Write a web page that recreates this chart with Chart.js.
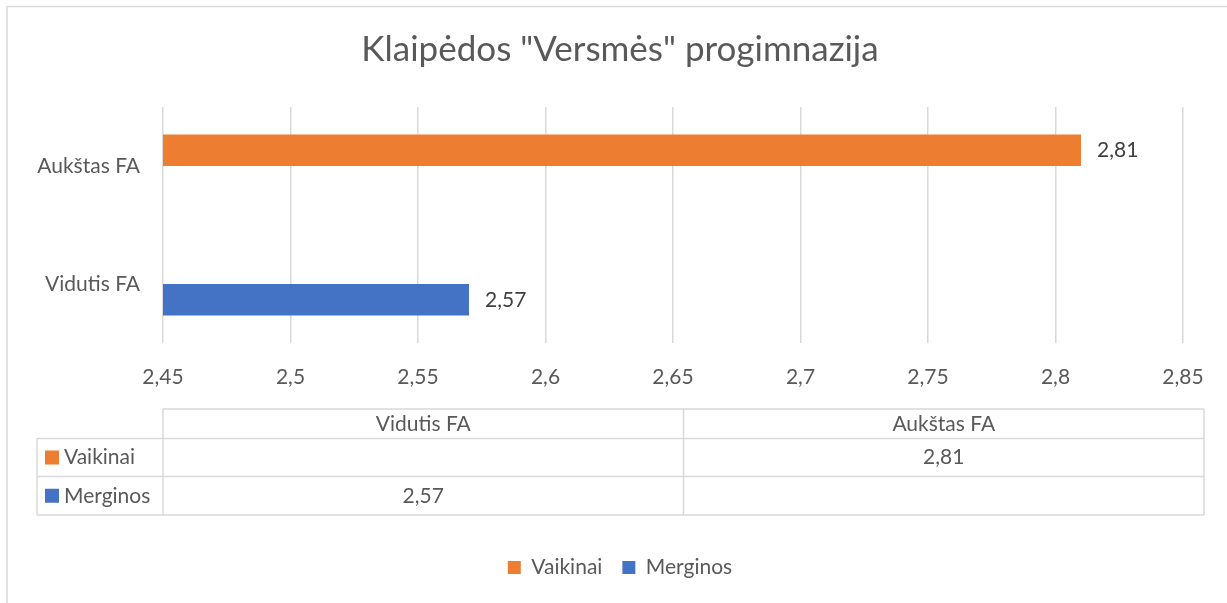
<!DOCTYPE html>
<html>
<head>
<meta charset="utf-8">
<script src="https://cdn.jsdelivr.net/npm/chart.js@4.4.1/dist/chart.umd.min.js"></script>
<style>
  html, body { margin: 0; padding: 0; background: #fff; }
  #wrap { width: 1227px; height: 603px; }
</style>
</head>
<body>
<div id="wrap"><canvas id="chart"></canvas></div>
<script>
const categories = ['Vidutis FA', 'Aukštas FA'];
const vaikinai = [null, 2.81];
const merginos = [2.57, null];
const seriesNames = ['Vaikinai', 'Merginos'];
const xTicks = [2.45, 2.5, 2.55, 2.6, 2.65, 2.7, 2.75, 2.8, 2.85];

const FONT = 'Lato, "Open Sans", sans-serif';
const TEXT = '#595959';
const LINE = '#d9d9d9';
const FS = 21;

const fmt = v => String(v).replace('.', ',');

// thin frame the Excel chart sits in (only top and left edges are visible)
const framePlugin = {
    id: 'framePlugin',
    afterLayout(chart) {
        // title and legend are centred on the whole frame, not the plot
        chart.titleBlock.left = 57;
        chart.legend.left = 57;
    },
    beforeDraw(chart) {
        const { ctx, width, height } = chart;
        ctx.save();
        ctx.fillStyle = '#fff';
        ctx.fillRect(0, 0, width, height);
        ctx.strokeStyle = LINE;
        ctx.lineWidth = 1.5;
        ctx.beginPath();
        ctx.moveTo(7, height);
        ctx.lineTo(7, 6.5);
        ctx.lineTo(width, 6.5);
        ctx.stroke();
        ctx.restore();
    }
};

const valueLabelsPlugin = {
    id: 'valueLabelsPlugin',
    afterDatasetsDraw(chart) {
        const { ctx } = chart;
        ctx.save();
        ctx.font = FS + 'px ' + FONT;
        ctx.fillStyle = '#404040';
        ctx.textAlign = 'left';
        ctx.textBaseline = 'middle';
        chart.data.datasets.forEach((dataset, i) => {
            const meta = chart.getDatasetMeta(i);
            meta.data.forEach((bar, j) => {
                const v = dataset.data[j];
                if (v == null) return;
                ctx.fillText(fmt(v), bar.x + 16, bar.y);
            });
        });
        ctx.restore();
    }
};

// data table under the x axis
const dataTablePlugin = {
    id: 'dataTablePlugin',
    afterDraw(chart) {
        const { ctx } = chart;
        const left = chart.chartArea.left;
        const right = 1204;
        const labelLeft = 37;
        const rows = [409, 438.5, 476.5, 515];
        const colW = (right - left) / categories.length;

        ctx.save();
        ctx.strokeStyle = LINE;
        ctx.lineWidth = 1.5;
        ctx.beginPath();
        ctx.moveTo(left, rows[0]); ctx.lineTo(right, rows[0]);
        for (let r = 1; r < rows.length; r++) {
            ctx.moveTo(labelLeft, rows[r]); ctx.lineTo(right, rows[r]);
        }
        ctx.moveTo(labelLeft, rows[1]); ctx.lineTo(labelLeft, rows[3]);
        for (let c = 0; c <= categories.length; c++) {
            const x = left + c * colW;
            ctx.moveTo(x, rows[0]); ctx.lineTo(x, rows[3]);
        }
        ctx.stroke();

        ctx.font = FS + 'px ' + FONT;
        ctx.fillStyle = TEXT;
        ctx.textBaseline = 'middle';
        ctx.textAlign = 'center';
        categories.forEach((cat, c) => {
            ctx.fillText(cat, left + (c + 0.5) * colW, (rows[0] + rows[1]) / 2);
        });

        chart.data.datasets.forEach((ds, r) => {
            const yMid = (rows[r + 1] + rows[r + 2]) / 2;
            ctx.fillStyle = ds.backgroundColor;
            ctx.fillRect(45, yMid - 7, 14, 14);
            ctx.fillStyle = TEXT;
            ctx.textAlign = 'left';
            ctx.fillText(ds.label, 64, yMid);
            ctx.textAlign = 'center';
            ds.data.forEach((v, c) => {
                if (v == null) return;
                ctx.fillText(fmt(v), left + (c + 0.5) * colW, yMid);
            });
        });
        ctx.restore();
    }
};

new Chart(document.getElementById('chart'), {
    type: 'bar',
    data: {
        labels: categories,
        datasets: [
            { label: seriesNames[0], data: vaikinai, backgroundColor: '#ED7D31' },
            { label: seriesNames[1], data: merginos, backgroundColor: '#4472C4' }
        ]
    },
    options: {
        indexAxis: 'y',
        responsive: true, maintainAspectRatio: false,
        animation: false,
        categoryPercentage: 0.534, barPercentage: 1,
        layout: { padding: { top: 0, left: 0, right: 44, bottom: 15 } },
        plugins: {
            title: {
                display: true,
                text: 'Klaipėdos "Versmės" progimnazija',
                color: TEXT,
                font: { family: FONT, size: 35, weight: 'normal' },
                padding: { top: 29, bottom: 36 }
            },
            legend: {
                position: 'bottom',
                labels: {
                    color: TEXT, boxWidth: 13, boxHeight: 13,
                    font: { family: FONT, size: FS }, padding: 20
                }
            },
            tooltip: { enabled: false }
        },
        scales: {
            x: {
                min: 2.45, max: 2.85,
                afterBuildTicks: axis => { axis.ticks = xTicks.map(v => ({ value: v })); },
                afterFit: axis => { axis.height = 194; },
                border: { display: false },
                grid: { color: LINE, lineWidth: 1.5, drawTicks: false },
                ticks: {
                    color: TEXT, padding: 22,
                    font: { family: FONT, size: FS },
                    callback: v => fmt(v)
                }
            },
            y: {
                reverse: true,
                afterFit: axis => { axis.width = 163; },
                border: { display: false },
                grid: { display: false, drawTicks: false },
                ticks: {
                    color: TEXT, padding: 23,
                    font: { family: FONT, size: FS }
                }
            }
        }
    },
    plugins: [framePlugin, valueLabelsPlugin, dataTablePlugin]
});
</script>
</body>
</html>
